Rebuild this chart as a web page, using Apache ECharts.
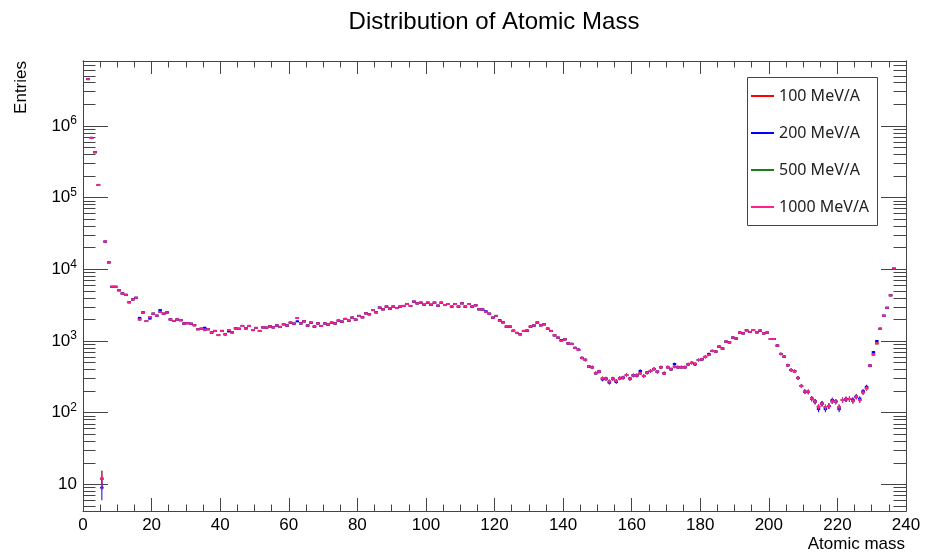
<!DOCTYPE html>
<html><head><meta charset="utf-8">
<script src="https://cdn.jsdelivr.net/npm/echarts@6/dist/echarts.min.js"></script>
<style>html,body{margin:0;padding:0;background:#fff}#c{width:936px;height:552px}</style>
</head><body><div id="c"></div>
<script>
// Mass number A of each bin (bin spans A .. A+1)
const massNumbers = [1,2,3,4,5,6,7,8,9,10,11,12,13,14,15,16,17,18,19,20,21,22,23,24,25,26,27,28,29,30,31,32,33,34,35,36,37,38,39,40,41,42,43,44,45,46,47,48,49,50,51,52,53,54,55,56,57,58,59,60,61,62,63,64,65,66,67,68,69,70,71,72,73,74,75,76,77,78,79,80,81,82,83,84,85,86,87,88,89,90,91,92,93,94,95,96,97,98,99,100,101,102,103,104,105,106,107,108,109,110,111,112,113,114,115,116,117,118,119,120,121,122,123,124,125,126,127,128,129,130,131,132,133,134,135,136,137,138,139,140,141,142,143,144,145,146,147,148,149,150,151,152,153,154,155,156,157,158,159,160,161,162,163,164,165,166,167,168,169,170,171,172,173,174,175,176,177,178,179,180,181,182,183,184,185,186,187,188,189,190,191,192,193,194,195,196,197,198,199,200,201,202,203,204,205,206,207,208,209,210,211,212,213,214,215,216,217,218,219,220,221,222,223,224,225,226,227,228,229,230,231,232,233,234,235,236];

const mev1000 = [4500000,680000,430000,150000,12,24300,12500,5700,5700,5100,4600,4400,3470,3800,4000,2000,2500,1900,2150,2400,2250,2540,2400,2500,2000,1900,2000,1950,1750,1770,1740,1660,1460,1480,1420,1460,1310,1380,1210,1380,1240,1420,1320,1500,1480,1620,1500,1620,1420,1520,1380,1550,1530,1600,1550,1640,1570,1710,1640,1800,1745,2090,1760,1880,1640,1800,1585,1760,1620,1760,1690,1800,1760,1920,1860,2030,1920,2115,1985,2235,2140,2430,2355,2700,2510,2920,2765,3015,2825,3015,2885,3015,3080,3280,3080,3535,3350,3420,3205,3420,3205,3420,3105,3420,3175,3280,3015,3280,3015,3350,3015,3280,3015,3145,2765,2750,2540,2400,2115,2235,1920,1820,1585,1585,1380,1295,1240,1380,1395,1585,1640,1805,1655,1710,1485,1380,1200,1110,1010,1055,925,910,800,750,580,545,440,430,355,375,300,298,272,298,277,302,308,335,298,331,331,354,325,362,382,407,373,430,354,430,403,438,430,430,430,475,495,480,543,556,600,640,726,710,833,782,978,957,1112,1089,1306,1279,1409,1336,1422,1321,1393,1279,1306,1066,1066,861,659,604,458,394,378,305,236,196,195,157,143,121,134,119,124,144,143,119,150,154,155,146,167,150,192,219,453,650,930,1480,2250,2900,4340,10200];

const mev200 = [4500000,680000,430000,150000,9,24300,12500,5700,5700,5100,4600,4400,3470,3800,4000,2100,2500,1900,2050,2400,2250,2700,2400,2500,2000,1900,2000,1950,1750,1770,1740,1660,1460,1480,1530,1460,1310,1380,1210,1380,1240,1360,1320,1500,1480,1620,1500,1620,1420,1520,1380,1550,1530,1600,1550,1640,1570,1710,1640,1800,1745,1880,1760,1880,1640,1800,1585,1760,1620,1760,1690,1800,1760,1920,1860,2030,1920,2115,1985,2235,2140,2430,2355,2700,2510,2920,2765,3015,2825,3015,2885,3015,3080,3280,3080,3535,3350,3420,3205,3420,3205,3420,3105,3420,3175,3280,3015,3280,3015,3350,3015,3280,3015,3145,2765,2750,2600,2400,2115,2235,1950,1820,1585,1585,1400,1295,1240,1380,1395,1585,1640,1805,1655,1710,1485,1380,1200,1110,1030,1055,925,910,800,760,580,545,440,430,355,375,290,298,262,298,268,302,308,335,298,331,331,382,325,362,382,407,373,430,354,430,403,477,430,430,430,470,495,470,543,556,600,660,726,710,833,782,978,957,1112,1080,1306,1279,1409,1336,1422,1321,1393,1279,1306,1066,1066,861,659,604,458,394,378,305,236,196,195,157,143,112,134,112,124,150,143,112,150,154,155,152,167,157,200,230,453,700,1000,1480,2250,2900,4340,10200];

const mev500 = [4500000,680000,430000,150000,12,24300,12500,5700,5700,5100,4600,4400,3470,3800,4000,2000,2500,1900,2150,2400,2250,2540,2400,2500,2000,1900,2000,1950,1750,1770,1740,1660,1460,1480,1420,1460,1310,1380,1210,1380,1240,1420,1320,1500,1480,1620,1500,1620,1420,1520,1380,1550,1530,1600,1550,1640,1570,1710,1640,1800,1745,2090,1760,1880,1640,1800,1585,1760,1620,1760,1690,1800,1760,1920,1860,2030,1920,2115,1985,2235,2140,2430,2355,2700,2510,2920,2765,3015,2825,3015,2885,3015,3080,3280,3080,3535,3350,3420,3205,3420,3205,3420,3105,3420,3175,3280,3015,3280,3015,3350,3015,3280,3015,3145,2765,2750,2540,2400,2115,2235,1920,1820,1585,1585,1380,1295,1240,1380,1395,1585,1640,1805,1655,1710,1485,1380,1200,1110,1010,1055,925,910,800,750,580,545,440,430,355,375,300,298,272,298,277,302,308,335,298,331,331,354,325,362,382,407,373,430,354,430,403,438,430,430,430,475,495,480,543,556,600,640,726,710,833,782,978,957,1112,1089,1306,1279,1409,1336,1422,1321,1393,1279,1306,1066,1066,861,659,604,458,394,378,305,236,196,195,157,143,121,134,119,124,144,143,119,150,154,155,146,167,150,192,219,453,650,930,1480,2250,2900,4340,10200];

const mev100 = [4500000,680000,430000,150000,12,24300,12500,5700,5700,5100,4600,4400,3470,3800,4000,2000,2500,1900,2150,2400,2250,2540,2400,2500,2000,1900,2000,1950,1750,1770,1740,1660,1460,1480,1420,1460,1310,1380,1210,1380,1240,1420,1320,1500,1480,1620,1500,1620,1420,1520,1380,1550,1530,1600,1550,1640,1570,1710,1640,1800,1745,2090,1760,1880,1640,1800,1585,1760,1620,1760,1690,1800,1760,1920,1860,2030,1920,2115,1985,2235,2140,2430,2355,2700,2510,2920,2765,3015,2825,3015,2885,3015,3080,3280,3080,3535,3350,3420,3205,3420,3205,3420,3105,3420,3175,3280,3015,3280,3015,3350,3015,3280,3015,3145,2765,2750,2540,2400,2115,2235,1920,1820,1585,1585,1380,1295,1240,1380,1395,1585,1640,1805,1655,1710,1485,1380,1200,1110,1010,1055,925,910,800,750,580,545,440,430,355,375,300,298,272,298,277,302,308,335,298,331,331,354,325,362,382,407,373,430,354,430,403,438,430,430,430,475,495,480,543,556,600,640,726,710,833,782,978,957,1112,1089,1306,1279,1409,1336,1422,1321,1393,1279,1306,1066,1066,861,659,604,458,394,378,305,236,196,195,157,143,121,134,119,124,144,143,119,150,154,155,146,167,150,192,219,453,650,930,1480,2250,2900,4340,10200];

const seriesNames = ['100 MeV/A', '200 MeV/A', '500 MeV/A', '1000 MeV/A'];
const yMajorTicks = [10, 100, 1000, 10000, 100000, 1000000];
const yMinorTicks = [5,6,7,8,9,20,30,40,50,60,70,80,90,200,300,400,500,600,700,800,900,2000,3000,4000,5000,6000,7000,8000,9000,20000,30000,40000,50000,60000,70000,80000,90000,200000,300000,400000,500000,600000,700000,800000,900000,2000000,3000000,4000000,5000000,6000000,7000000,8000000];

const COLORS = {'100 MeV/A': '#ff0000', '200 MeV/A': '#0000ff', '500 MeV/A': '#1e7b1e', '1000 MeV/A': '#ff1f8f'};
const FONT = '"Liberation Sans", Arial, sans-serif';
const AX = '#444';

function pairs(vals) { return massNumbers.map((a, i) => [a, vals[i]]); }

function histSeries(name, vals) {
  const color = COLORS[name];
  return {
    type: 'custom', name, clip: true,
    itemStyle: {color},
    encode: {x: 0, y: 1},
    data: pairs(vals),
    renderItem(params, api) {
      const a = api.value(0), n = api.value(1);
      if (!(n > 0)) return;
      const l = api.coord([a, n]), r = api.coord([a + 1, n]);
      const e = Math.sqrt(n);
      const t = api.coord([a + 0.5, n + e]);
      const b = api.coord([a + 0.5, Math.max(n - e, 1e-3)]);
      return {type: 'group', children: [
        {type: 'line', shape: {x1: l[0], y1: l[1], x2: r[0], y2: r[1]}, style: {stroke: color, lineWidth: 2}},
        {type: 'line', shape: {x1: t[0], y1: t[1], x2: b[0], y2: b[1]}, style: {stroke: color, lineWidth: 1}}
      ]};
    }
  };
}

const YMIN = 4.25, YMAX = 8.04e6;
function yAx(pos, ticks, len, labels) {
  return {
    type: 'log', logBase: 10, min: YMIN, max: YMAX, position: pos,
    axisLine: {show: true, lineStyle: {color: AX, width: 1}},
    axisTick: {show: true, inside: true, length: len, customValues: ticks, lineStyle: {color: AX, width: 1}},
    axisLabel: labels ? {
      show: true, customValues: yMajorTicks, margin: 6, color: '#000', fontFamily: FONT, fontSize: 17,
      lineHeight: 22,
      formatter: v => { const e = Math.round(Math.log10(v)); return e === 1 ? '10' : '10{s|' + e + '}'; },
      rich: {s: {fontSize: 12, lineHeight: 12, verticalAlign: 'top', fontFamily: FONT, color: '#000'}}
    } : {show: false},
    splitLine: {show: false}, minorTick: {show: false}, minorSplitLine: {show: false}
  };
}
function xAx(pos, labels) {
  return {
    type: 'value', min: 0, max: 240, interval: 20, position: pos,
    axisLine: {show: true, lineStyle: {color: AX, width: 1}},
    axisTick: {show: true, inside: true, length: 13, lineStyle: {color: AX, width: 1}},
    minorTick: {show: true, splitNumber: 4, length: 6.5, lineStyle: {color: AX, width: 1}},
    axisLabel: labels ? {show: true, margin: 6, color: '#000', fontFamily: FONT, fontSize: 17} : {show: false},
    splitLine: {show: false}, minorSplitLine: {show: false}
  };
}

const chart = echarts.init(document.getElementById('c'), null, {renderer: 'canvas'});
chart.setOption({
  animation: false,
  backgroundColor: '#fff',
  grid: {left: 83, right: 30, top: 61, bottom: 41, containLabel: false, outerBoundsMode: 'none'},
  xAxis: [xAx('bottom', true), xAx('top', false)],
  yAxis: [yAx('left', yMajorTicks, 25, true), yAx('left', yMinorTicks, 12.5, false),
          yAx('right', yMajorTicks, 25, false), yAx('right', yMinorTicks, 12.5, false)],
  legend: {
    orient: 'vertical', left: 751, top: 88, padding: 0, itemWidth: 23, itemHeight: 2, itemGap: 21,
    icon: 'rect', data: seriesNames, selectedMode: false,
    textStyle: {fontSize: 16, fontFamily: '"Noto Sans", sans-serif', color: '#222'}
  },
  series: [histSeries('100 MeV/A', mev100), histSeries('500 MeV/A', mev500),
           histSeries('200 MeV/A', mev200), histSeries('1000 MeV/A', mev1000)],
  graphic: [
    {type: 'rect', silent: true, shape: {x: 747.5, y: 77.5, width: 130, height: 148}, style: {fill: 'none', stroke: '#444', lineWidth: 1}, z: 1},
    {type: 'text', x: 494, y: 22, style: {text: 'Distribution of Atomic Mass', font: '24px ' + FONT, fill: '#000', align: 'center', verticalAlign: 'middle', textAlign: 'center', textVerticalAlign: 'middle'}},
    {type: 'text', x: 21, y: 61, rotation: Math.PI / 2, style: {text: 'Entries', font: '17px ' + FONT, fill: '#000', align: 'right', verticalAlign: 'middle', textAlign: 'right', textVerticalAlign: 'middle'}},
    {type: 'text', x: 905, y: 544, style: {text: 'Atomic mass', font: '17px ' + FONT, fill: '#000', align: 'right', verticalAlign: 'middle', textAlign: 'right', textVerticalAlign: 'middle'}}
  ]
});
</script></body></html>
